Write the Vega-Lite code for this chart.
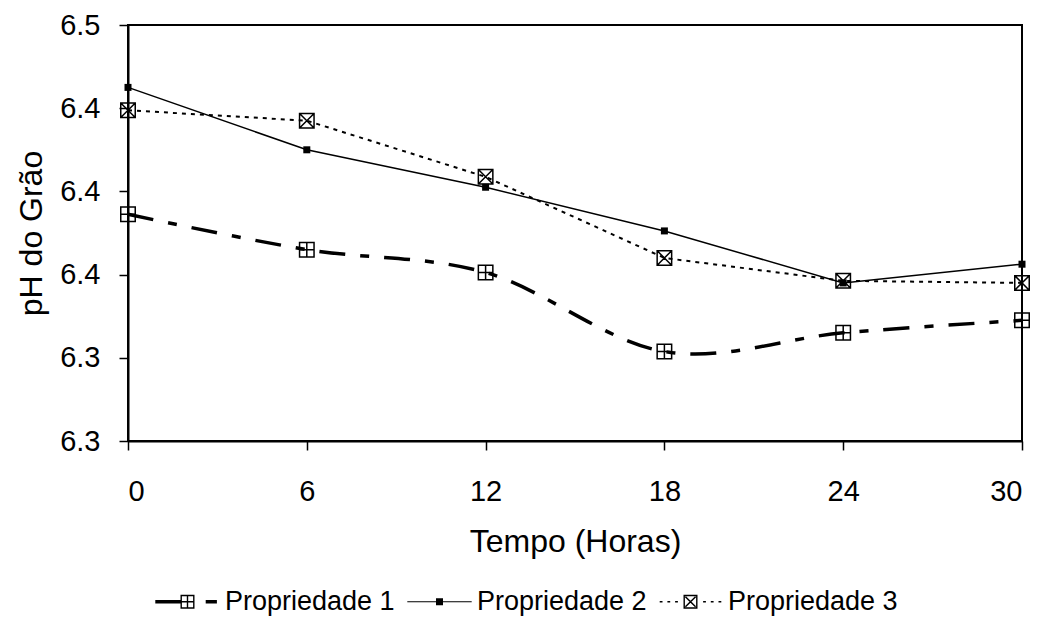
{
  "$schema": "https://vega.github.io/schema/vega-lite/v6.json",
  "width": 894,
  "height": 416,
  "autosize": "none",
  "padding": {"left": 128, "top": 25, "right": 19, "bottom": 191},
  "background": "white",
  "config": {
    "font": "Liberation Sans",
    "view": {"stroke": "black", "strokeWidth": 2},
    "axis": {
      "domainColor": "black", "domainWidth": 2, "tickColor": "black", "tickWidth": 1.5,
      "labelColor": "black", "titleColor": "black", "labelFont": "Liberation Sans", "titleFont": "Liberation Sans",
      "labelFontSize": 29, "titleFontSize": 32, "titleFontWeight": "normal", "grid": false
    }
  },
  "data": {
    "values": [
      {"serie": "Propriedade 1", "tempo": 0, "ph": 6.389},
      {"serie": "Propriedade 1", "tempo": 6, "ph": 6.372},
      {"serie": "Propriedade 1", "tempo": 12, "ph": 6.361},
      {"serie": "Propriedade 1", "tempo": 18, "ph": 6.323},
      {"serie": "Propriedade 1", "tempo": 24, "ph": 6.332},
      {"serie": "Propriedade 1", "tempo": 30, "ph": 6.338},
      {"serie": "Propriedade 2", "tempo": 0, "ph": 6.450},
      {"serie": "Propriedade 2", "tempo": 6, "ph": 6.420},
      {"serie": "Propriedade 2", "tempo": 12, "ph": 6.402},
      {"serie": "Propriedade 2", "tempo": 18, "ph": 6.381},
      {"serie": "Propriedade 2", "tempo": 24, "ph": 6.356},
      {"serie": "Propriedade 2", "tempo": 30, "ph": 6.365},
      {"serie": "Propriedade 3", "tempo": 0, "ph": 6.439},
      {"serie": "Propriedade 3", "tempo": 6, "ph": 6.434},
      {"serie": "Propriedade 3", "tempo": 12, "ph": 6.407},
      {"serie": "Propriedade 3", "tempo": 18, "ph": 6.368},
      {"serie": "Propriedade 3", "tempo": 24, "ph": 6.357},
      {"serie": "Propriedade 3", "tempo": 30, "ph": 6.356}
    ]
  },
  "encoding": {
    "x": {
      "field": "tempo", "type": "quantitative",
      "scale": {"domain": [0, 30], "nice": false, "zero": false},
      "axis": {"values": [0, 6, 12, 18, 24, 30], "tickSize": 9, "labelPadding": 27, "title": "Tempo (Horas)", "titlePadding": 20}
    },
    "y": {
      "field": "ph", "type": "quantitative",
      "scale": {"domain": [6.28, 6.48], "nice": false, "zero": false},
      "axis": {"values": [6.28, 6.32, 6.36, 6.40, 6.44, 6.48], "format": ".1f", "tickSize": 9, "labelPadding": 19, "title": "pH do Grão", "titlePadding": 11}
    }
  },
  "layer": [
    {
      "transform": [{"filter": "datum.serie === 'Propriedade 1'"}],
      "mark": {"type": "line", "color": "black", "strokeWidth": 3.5, "strokeDash": [26, 15, 9, 15], "interpolate": "cardinal"}
    },
    {
      "transform": [{"filter": "datum.serie === 'Propriedade 2'"}],
      "mark": {"type": "line", "color": "black", "strokeWidth": 1.5}
    },
    {
      "transform": [{"filter": "datum.serie === 'Propriedade 3'"}],
      "mark": {"type": "line", "color": "black", "strokeWidth": 2, "strokeDash": [4, 5]}
    },
    {
      "transform": [{"filter": "datum.serie === 'Propriedade 1'"}],
      "mark": {"type": "point", "filled": false, "stroke": "black", "strokeWidth": 1.5, "size": 210, "opacity": 1,
        "shape": "M-1,-1L1,-1L1,1L-1,1Z M0,-1L0,1 M-1,0L1,0"}
    },
    {
      "transform": [{"filter": "datum.serie === 'Propriedade 2'"}],
      "mark": {"type": "point", "filled": true, "color": "black", "size": 49, "opacity": 1, "shape": "square"}
    },
    {
      "transform": [{"filter": "datum.serie === 'Propriedade 3'"}],
      "mark": {"type": "point", "filled": false, "stroke": "black", "strokeWidth": 1.5, "size": 210, "opacity": 1,
        "shape": "M-1,-1L1,-1L1,1L-1,1Z M-1,-1L1,1 M1,-1L-1,1"}
    },
    {
      "mark": {"type": "point", "filled": true, "color": "black", "opacity": 0, "size": 196},
      "encoding": {
        "shape": {
          "field": "serie", "type": "nominal",
          "scale": {
            "domain": ["Propriedade 1", "Propriedade 2", "Propriedade 3"],
            "range": [
              "M-4.6,-0.25L-1,-0.25L-1,0.25L-4.6,0.25Z M-1,-1L1,-1L1,1L-1,1Z M-0.8,-0.8L-0.8,0.8L0.8,0.8L0.8,-0.8Z M-0.8,-0.1L0.8,-0.1L0.8,0.1L-0.8,0.1Z M-0.1,-0.8L0.1,-0.8L0.1,0.8L-0.1,0.8Z M2.6,-0.25L4.2,-0.25L4.2,0.25L2.6,0.25Z",
              "M-4.6,-0.08L4.6,-0.08L4.6,0.08L-4.6,0.08Z M-0.5,-0.5L0.5,-0.5L0.5,0.5L-0.5,0.5Z",
              "M-4.4,-0.12L-4,-0.12L-4,0.12L-4.4,0.12Z M-3.3,-0.12L-2.9,-0.12L-2.9,0.12L-3.3,0.12Z M-2.2,-0.12L-1.8,-0.12L-1.8,0.12L-2.2,0.12Z M1.8,-0.12L2.2,-0.12L2.2,0.12L1.8,0.12Z M2.9,-0.12L3.3,-0.12L3.3,0.12L2.9,0.12Z M4,-0.12L4.4,-0.12L4.4,0.12L4,0.12Z M-1,-1L1,-1L1,1L-1,1Z M-0.8,-0.8L-0.8,0.8L0.8,0.8L0.8,-0.8Z M-0.8,-0.65L-0.65,-0.8L0.8,0.65L0.65,0.8Z M0.65,-0.8L0.8,-0.65L-0.65,0.8L-0.8,0.65Z"
            ]
          },
          "legend": {
            "title": null, "orient": "none", "direction": "horizontal", "legendX": 46, "legendY": 563,
            "padding": 0, "symbolSize": 196, "symbolFillColor": "black", "symbolStrokeWidth": 0, "symbolOpacity": 1,
            "labelFontSize": 27, "labelFont": "Liberation Sans", "labelColor": "black", "labelOffset": 24, "labelLimit": 0, "columnPadding": 12
          }
        }
      }
    }
  ]
}
